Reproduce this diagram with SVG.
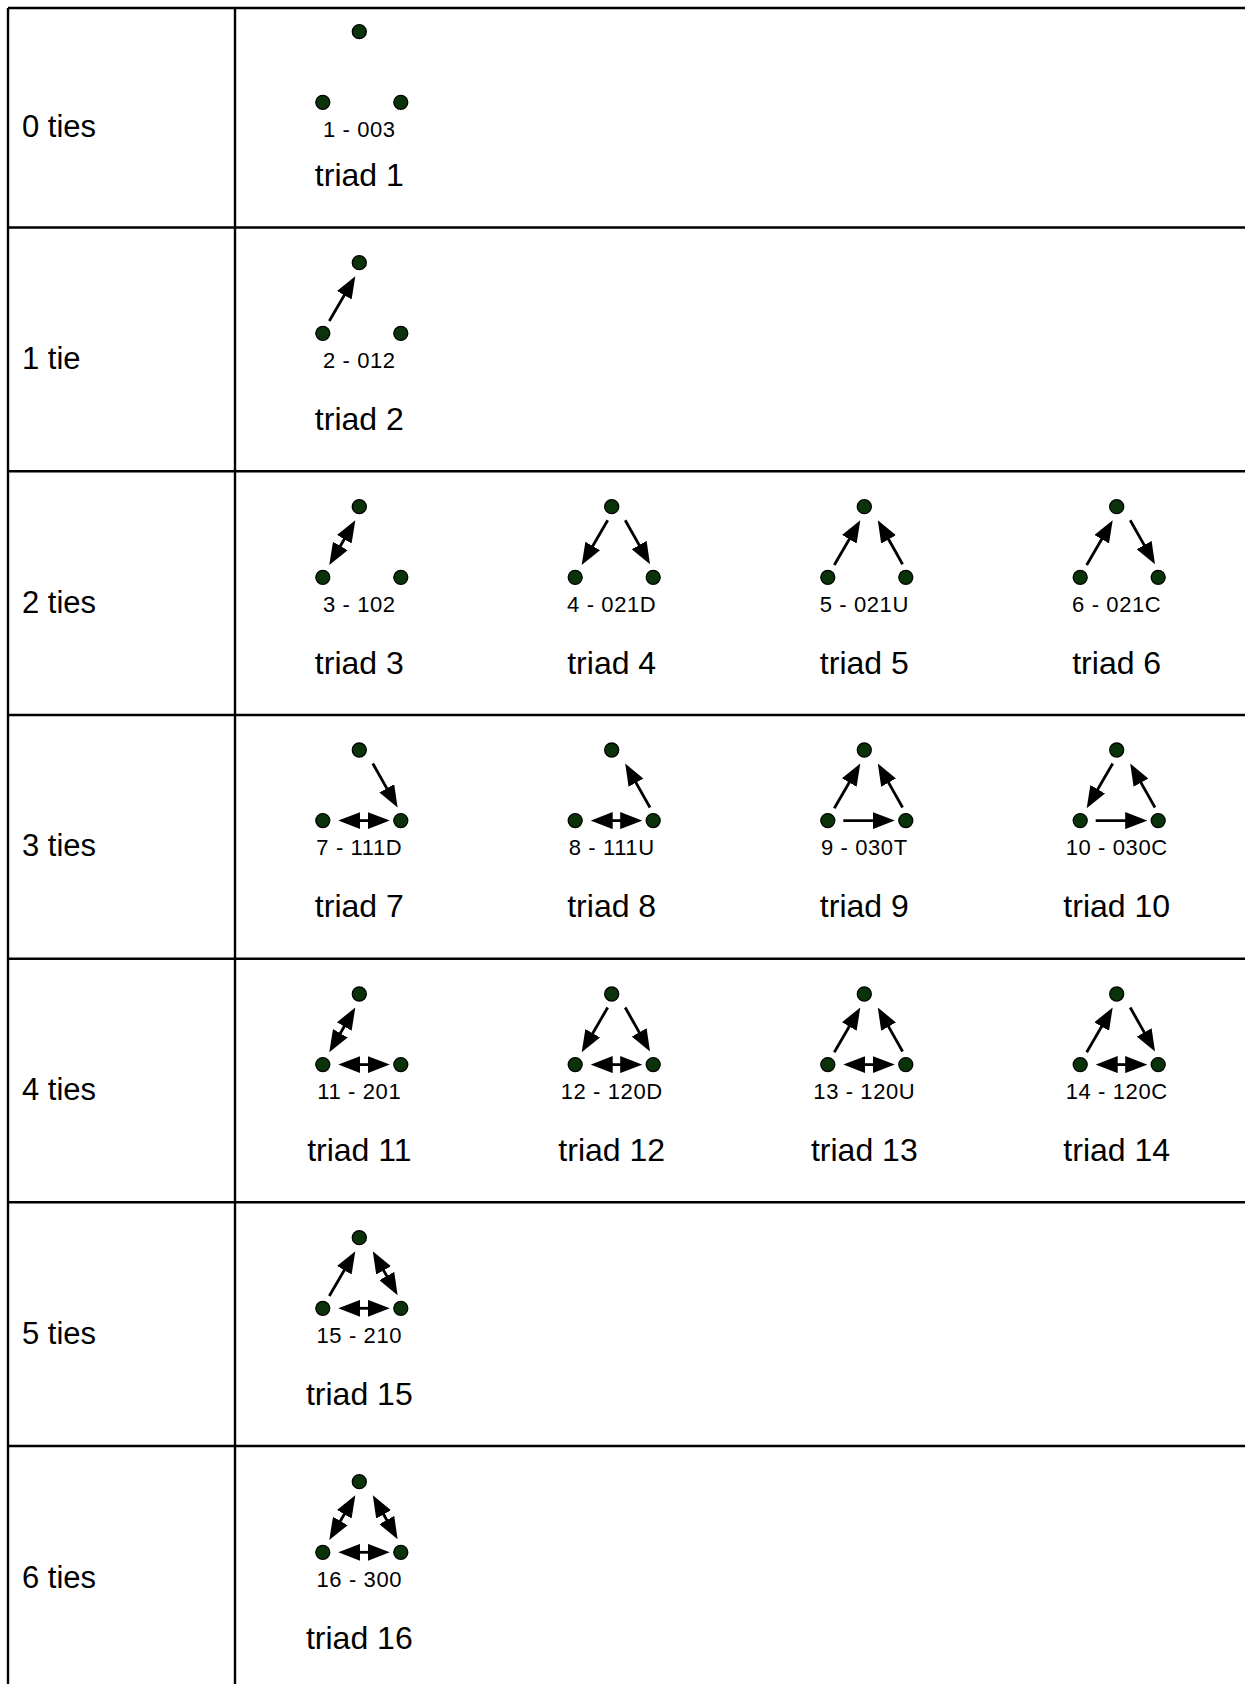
<svg xmlns="http://www.w3.org/2000/svg" width="1245" height="1684" viewBox="0 0 1245 1684">
<style>
.grid{stroke:#000;stroke-width:2.4;fill:none}
.nd{fill:#0a330a;stroke:#000;stroke-width:1.3}
.e{stroke:#000;stroke-width:2.8;fill:none}
.s{marker-end:url(#ah)}
.b{marker-start:url(#ah);marker-end:url(#ah)}
text{font-family:"Liberation Sans",Arial,sans-serif;fill:#000}
.row{font-size:31px}
.code{font-size:22px;letter-spacing:0.6px;text-anchor:middle}
.name{font-size:32px;text-anchor:middle}
</style>
<defs>
<marker id="ah" markerUnits="userSpaceOnUse" viewBox="0 0 22 17" markerWidth="22" markerHeight="17" refX="11" refY="8.5" orient="auto-start-reverse">
<path d="M0,0 L22,8.5 L0,17 z" fill="#000"/>
</marker>
<g id="tri">
<circle class="nd" cx="0" cy="0" r="7"/>
<circle class="nd" cx="-36.5" cy="70.6" r="7"/>
<circle class="nd" cx="41.5" cy="70.6" r="7"/>
</g>
</defs>
<rect width="1245" height="1684" fill="#fff"/>
<g id="table">
<line class="grid" x1="8" y1="8" x2="8" y2="1684"/>
<line class="grid" x1="235" y1="8" x2="235" y2="1684"/>
<line class="grid" x1="8" y1="8" x2="1245" y2="8"/>
<line class="grid" x1="8" y1="227.5" x2="1245" y2="227.5"/>
<line class="grid" x1="8" y1="471.3" x2="1245" y2="471.3"/>
<line class="grid" x1="8" y1="715" x2="1245" y2="715"/>
<line class="grid" x1="8" y1="958.7" x2="1245" y2="958.7"/>
<line class="grid" x1="8" y1="1202.3" x2="1245" y2="1202.3"/>
<line class="grid" x1="8" y1="1446" x2="1245" y2="1446"/>
</g>
<g id="row-labels">
<text class="row" x="22" y="136.7">0 ties</text>
<text class="row" x="22" y="368.7">1 tie</text>
<text class="row" x="22" y="612.7">2 ties</text>
<text class="row" x="22" y="856">3 ties</text>
<text class="row" x="22" y="1100">4 ties</text>
<text class="row" x="22" y="1343.7">5 ties</text>
<text class="row" x="22" y="1587.7">6 ties</text>
</g>
<g id="triad-1" transform="translate(359.3,31.7)"><use href="#tri"/><text class="code" x="0" y="105.3">1 - 003</text><text class="name" x="0" y="154.3">triad 1</text></g>
<g id="triad-2" transform="translate(359.3,262.7)"><use href="#tri"/><text class="code" x="0" y="105.3">2 - 012</text><text class="name" x="0" y="167">triad 2</text></g>
<g id="triad-3" transform="translate(359.3,506.7)"><use href="#tri"/><text class="code" x="0" y="105.3">3 - 102</text><text class="name" x="0" y="167">triad 3</text></g>
<g id="triad-4" transform="translate(611.7,506.7)"><use href="#tri"/><text class="code" x="0" y="105.3">4 - 021D</text><text class="name" x="0" y="167">triad 4</text></g>
<g id="triad-5" transform="translate(864.3,506.7)"><use href="#tri"/><text class="code" x="0" y="105.3">5 - 021U</text><text class="name" x="0" y="167">triad 5</text></g>
<g id="triad-6" transform="translate(1116.7,506.7)"><use href="#tri"/><text class="code" x="0" y="105.3">6 - 021C</text><text class="name" x="0" y="167">triad 6</text></g>
<g id="triad-7" transform="translate(359.3,750)"><use href="#tri"/><text class="code" x="0" y="105.3">7 - 111D</text><text class="name" x="0" y="167">triad 7</text></g>
<g id="triad-8" transform="translate(611.7,750)"><use href="#tri"/><text class="code" x="0" y="105.3">8 - 111U</text><text class="name" x="0" y="167">triad 8</text></g>
<g id="triad-9" transform="translate(864.3,750)"><use href="#tri"/><text class="code" x="0" y="105.3">9 - 030T</text><text class="name" x="0" y="167">triad 9</text></g>
<g id="triad-10" transform="translate(1116.7,750)"><use href="#tri"/><text class="code" x="0" y="105.3">10 - 030C</text><text class="name" x="0" y="167">triad 10</text></g>
<g id="triad-11" transform="translate(359.3,994)"><use href="#tri"/><text class="code" x="0" y="105.3">11 - 201</text><text class="name" x="0" y="167">triad 11</text></g>
<g id="triad-12" transform="translate(611.7,994)"><use href="#tri"/><text class="code" x="0" y="105.3">12 - 120D</text><text class="name" x="0" y="167">triad 12</text></g>
<g id="triad-13" transform="translate(864.3,994)"><use href="#tri"/><text class="code" x="0" y="105.3">13 - 120U</text><text class="name" x="0" y="167">triad 13</text></g>
<g id="triad-14" transform="translate(1116.7,994)"><use href="#tri"/><text class="code" x="0" y="105.3">14 - 120C</text><text class="name" x="0" y="167">triad 14</text></g>
<g id="triad-15" transform="translate(359.3,1237.7)"><use href="#tri"/><text class="code" x="0" y="105.3">15 - 210</text><text class="name" x="0" y="167">triad 15</text></g>
<g id="triad-16" transform="translate(359.3,1481.7)"><use href="#tri"/><text class="code" x="0" y="105.3">16 - 300</text><text class="name" x="0" y="167">triad 16</text></g>
<g id="connectors">
<g transform="translate(359.3,262.7)"><line class="e s" x1="-30" y1="58.3" x2="-9.52" y2="23.01"/></g>
<g transform="translate(359.3,506.7)"><line class="e b" x1="-9.52" y1="23.01" x2="-24.48" y2="48.79"/></g>
<g transform="translate(611.7,506.7)"><line class="e s" x1="-4" y1="13.5" x2="-24.48" y2="48.79"/><line class="e s" x1="13.5" y1="13.5" x2="32.9" y2="47.92"/></g>
<g transform="translate(864.3,506.7)"><line class="e s" x1="-30" y1="58.3" x2="-9.52" y2="23.01"/><line class="e s" x1="38.3" y1="57.5" x2="18.9" y2="23.08"/></g>
<g transform="translate(1116.7,506.7)"><line class="e s" x1="-30" y1="58.3" x2="-9.52" y2="23.01"/><line class="e s" x1="13.5" y1="13.5" x2="32.9" y2="47.92"/></g>
<g transform="translate(359.3,750)"><line class="e s" x1="13.5" y1="13.5" x2="32.9" y2="47.92"/><line class="e b" x1="-10" y1="70.6" x2="19.5" y2="70.6"/></g>
<g transform="translate(611.7,750)"><line class="e s" x1="38.3" y1="57.5" x2="18.9" y2="23.08"/><line class="e b" x1="-10" y1="70.6" x2="19.5" y2="70.6"/></g>
<g transform="translate(864.3,750)"><line class="e s" x1="-30" y1="58.3" x2="-9.52" y2="23.01"/><line class="e s" x1="38.3" y1="57.5" x2="18.9" y2="23.08"/><line class="e s" x1="-21" y1="70.6" x2="19.5" y2="70.6"/></g>
<g transform="translate(1116.7,750)"><line class="e s" x1="-4" y1="13.5" x2="-24.48" y2="48.79"/><line class="e s" x1="38.3" y1="57.5" x2="18.9" y2="23.08"/><line class="e s" x1="-21" y1="70.6" x2="19.5" y2="70.6"/></g>
<g transform="translate(359.3,994)"><line class="e b" x1="-9.52" y1="23.01" x2="-24.48" y2="48.79"/><line class="e b" x1="-10" y1="70.6" x2="19.5" y2="70.6"/></g>
<g transform="translate(611.7,994)"><line class="e s" x1="-4" y1="13.5" x2="-24.48" y2="48.79"/><line class="e s" x1="13.5" y1="13.5" x2="32.9" y2="47.92"/><line class="e b" x1="-10" y1="70.6" x2="19.5" y2="70.6"/></g>
<g transform="translate(864.3,994)"><line class="e s" x1="-30" y1="58.3" x2="-9.52" y2="23.01"/><line class="e s" x1="38.3" y1="57.5" x2="18.9" y2="23.08"/><line class="e b" x1="-10" y1="70.6" x2="19.5" y2="70.6"/></g>
<g transform="translate(1116.7,994)"><line class="e s" x1="-30" y1="58.3" x2="-9.52" y2="23.01"/><line class="e s" x1="13.5" y1="13.5" x2="32.9" y2="47.92"/><line class="e b" x1="-10" y1="70.6" x2="19.5" y2="70.6"/></g>
<g transform="translate(359.3,1237.7)"><line class="e s" x1="-30" y1="58.3" x2="-9.52" y2="23.01"/><line class="e b" x1="18.9" y1="23.08" x2="32.9" y2="47.92"/><line class="e b" x1="-10" y1="70.6" x2="19.5" y2="70.6"/></g>
<g transform="translate(359.3,1481.7)"><line class="e b" x1="-9.52" y1="23.01" x2="-24.48" y2="48.79"/><line class="e b" x1="18.9" y1="23.08" x2="32.9" y2="47.92"/><line class="e b" x1="-10" y1="70.6" x2="19.5" y2="70.6"/></g>
</g>
</svg>
